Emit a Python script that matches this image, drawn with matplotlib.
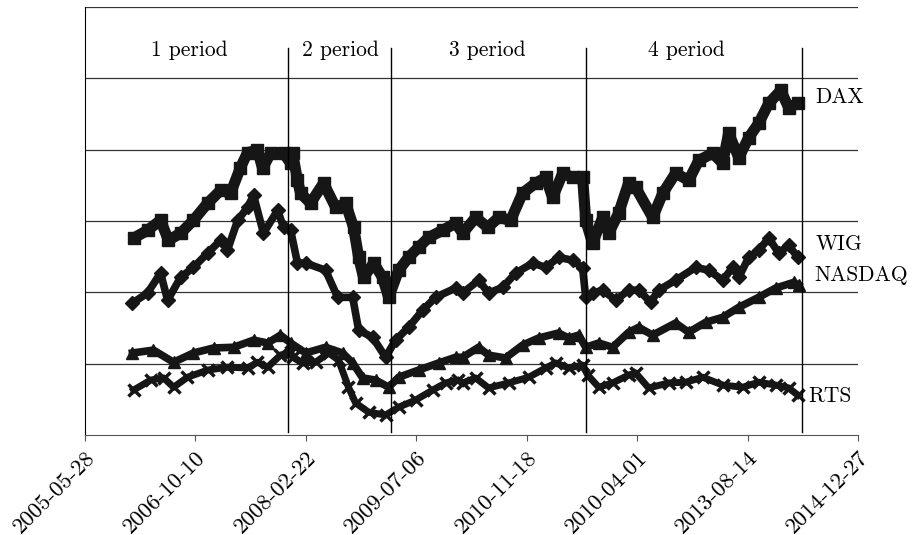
import matplotlib
matplotlib.use("Agg")
import matplotlib.pyplot as plt

plt.rcParams['font.family'] = ['cmr10', 'DejaVu Serif']
plt.rcParams['axes.unicode_minus'] = False

# x: days since 2005-05-28, y: index level (arbitrary units, grid every 100)
dax_x = [220, 283, 342, 378, 433, 491, 555, 614, 659, 704, 736, 781, 804, 840, 899, 931, 940, 962, 976,
         1021, 1080, 1135, 1180, 1216, 1239, 1261, 1307, 1347, 1375, 1420, 1465, 1510, 1556, 1619, 1678,
         1710, 1769, 1823, 1873, 1927, 1981, 2040, 2086, 2117, 2163, 2208, 2253, 2267, 2298, 2344, 2371,
         2416, 2461, 2493, 2570, 2616, 2674, 2733, 2779, 2842, 2887, 2914, 2960, 3005, 3050, 3096, 3150,
         3186, 3227]
dax_y = [276, 287, 301, 273, 283, 301, 325, 343, 339, 375, 396, 399, 374, 395, 395, 381, 395, 357, 339,
         325, 353, 319, 325, 291, 249, 221, 241, 221, 193, 231, 249, 263, 277, 287, 297,
         283, 305, 291, 305, 301, 339, 353, 361, 333, 367, 361, 361, 301, 269, 305, 283,
         311, 353, 347, 305, 339, 367, 357, 385, 395, 381, 423, 389, 417, 437, 465, 483,
         459, 465]

wig_x = [215, 283, 342, 374, 433, 491, 555, 614, 645, 691, 736, 763, 808, 872, 899, 931, 962, 999,
         1089, 1144, 1212, 1239, 1302, 1361, 1406, 1465, 1529, 1587, 1678, 1710, 1782, 1827, 1891, 1950,
         2027, 2086, 2144, 2208, 2253, 2267, 2298, 2344, 2403, 2461, 2507, 2561, 2597, 2674, 2765, 2824,
         2887, 2933, 2960, 3005, 3050, 3096, 3141, 3186, 3227]
wig_y = [185, 199, 227, 189, 221, 235, 255, 273, 259, 301, 319, 336, 283, 315, 291, 287, 241, 241,
         231, 193, 193, 147, 137, 109, 133, 151, 175, 193, 206, 199, 217, 199, 207, 227,
         241, 235, 249, 245, 234, 193, 199, 203, 189, 203, 203, 186, 203, 217, 235, 231,
         217, 235, 221, 249, 259, 276, 255, 266, 249]

nasdaq_x = [215, 310, 401, 491, 582, 673, 763, 827, 885, 931, 999, 1089, 1166, 1212, 1257, 1316, 1375,
            1420, 1510, 1601, 1678, 1710, 1782, 1827, 1904, 1981, 2054, 2144, 2190, 2235, 2267, 2326,
            2389, 2461, 2507, 2570, 2674, 2733, 2810, 2887, 2960, 3050, 3127, 3209, 3231]
nasdaq_y = [115, 119, 102, 115, 122, 123, 133, 129, 140, 129, 115, 123, 115, 101, 80, 77, 67,
            81, 91, 101, 109, 109, 123, 112, 108, 126, 136, 143, 136, 140, 123, 129,
            123, 144, 151, 140, 157, 144, 158, 165, 179, 193, 206, 214, 210]

rts_x = [220, 297, 356, 401, 464, 555, 645, 736, 781, 827, 885, 931, 940, 985, 1044, 1103, 1148, 1193,
         1225, 1284, 1361, 1420, 1497, 1574, 1633, 1687, 1710, 1769, 1827, 1918, 2009, 2086, 2131, 2190,
         2253, 2276, 2326, 2389, 2461, 2493, 2552, 2643, 2720, 2797, 2887, 2978, 3050, 3127, 3186, 3227]
rts_y = [63, 77, 80, 67, 81, 91, 95, 94, 102, 95, 112, 116, 109, 101, 102, 115, 105, 67,
         45, 32, 28, 39, 49, 63, 73, 77, 73, 80, 66, 73, 81, 94, 101, 94,
         98, 84, 67, 73, 84, 87, 66, 73, 74, 81, 70, 67, 74, 70, 66, 56]

tick_days = [0, 500, 1000, 1500, 2000, 2500, 3000, 3500]
tick_labels = ["2005-05-28", "2006-10-10", "2008-02-22", "2009-07-06",
               "2010-11-18", "2010-04-01", "2013-08-14", "2014-12-27"]

period_days = [918, 1384, 2270, 3245]
period_names = ["1 period", "2 period", "3 period", "4 period"]
period_label_x = [473, 1157, 1823, 2724]

series_names = ["DAX", "WIG", "NASDAQ", "RTS"]
name_pos = [(3308, 473), (3308, 268), (3300, 224), (3277, 55)]

fig = plt.figure(figsize=(9.13, 5.35), dpi=100)
ax = fig.add_axes([0.0931, 0.1869, 0.8467, 0.8])

ink = '#161616'
ax.plot(dax_x, dax_y, color=ink, lw=8, marker='s', ms=9,
        solid_joinstyle='round', solid_capstyle='butt')
ax.plot(wig_x, wig_y, color=ink, lw=5.5, marker='D', ms=7, solid_joinstyle='round')
ax.plot(nasdaq_x, nasdaq_y, color=ink, lw=5.5, marker='^', ms=8, solid_joinstyle='round')
ax.plot(rts_x, rts_y, color=ink, lw=5, marker='x', ms=8, mew=2.5, solid_joinstyle='round')

for d in period_days:
    ax.plot([d, d], [4, 543], color='black', lw=1)
for name, xd in zip(period_names, period_label_x):
    ax.text(xd, 539, name, ha='center', va='center', fontsize=15.5)
for name, (xd, yv) in zip(series_names, name_pos):
    ax.text(xd, yv, name, ha='left', va='center', fontsize=15.5)

ax.set_xlim(0, 3500)
ax.set_ylim(0, 600)
ax.set_yticks([100, 200, 300, 400, 500, 600])
ax.yaxis.grid(True, color='#333333', lw=0.9)
ax.tick_params(axis='y', left=False, labelleft=False)
ax.set_xticks(tick_days)
ax.set_xticklabels(tick_labels, rotation=45, ha='right', rotation_mode='anchor', fontsize=16.5)
ax.tick_params(axis='x', length=4, color='#555555', pad=5)
for s in ['top', 'right']:
    ax.spines[s].set_visible(False)
ax.spines['left'].set_color('black')
ax.spines['bottom'].set_color('#555555')

fig.savefig("out.png", dpi=100)
